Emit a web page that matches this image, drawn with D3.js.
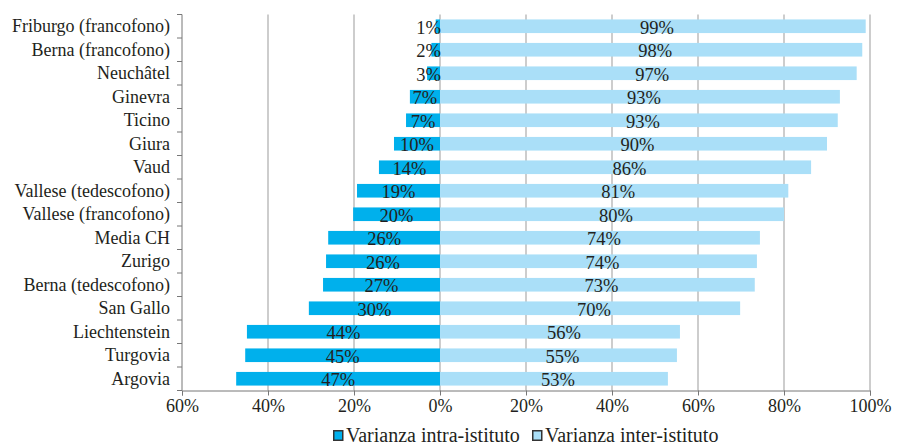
<!DOCTYPE html>
<html>
<head>
<meta charset="utf-8">
<script src="https://cdn.jsdelivr.net/npm/d3@7"></script>
<style>
  body { margin: 0; background: #fff; }
  text { font-family: 'Liberation Serif', 'Times New Roman', serif; fill: #231f20; }
</style>
</head>
<body>
<div id="chart"></div>
<script>
const categories = ['Friburgo (francofono)', 'Berna (francofono)', 'Neuchâtel', 'Ginevra', 'Ticino', 'Giura', 'Vaud',
  'Vallese (tedescofono)', 'Vallese (francofono)', 'Media CH', 'Zurigo', 'Berna (tedescofono)', 'San Gallo',
  'Liechtenstein', 'Turgovia', 'Argovia']
// bar lengths
const intraValues = [1, 2, 3, 7, 7.9, 10.7, 14.2, 19.3, 20.2, 26, 26.5, 27.2, 30.5, 44.9, 45.3, 47.4]
const interValues = [99, 98.2, 96.9, 93, 92.5, 90, 86.3, 81, 80, 74.4, 73.7, 73.2, 69.8, 55.8, 55.1, 53]
// printed labels
const intraLabels = ['1%', '2%', '3%', '7%', '7%', '10%', '14%', '19%', '20%', '26%', '26%', '27%', '30%', '44%', '45%', '47%']
const interLabels = ['99%', '98%', '97%', '93%', '93%', '90%', '86%', '81%', '80%', '74%', '74%', '73%', '70%', '56%', '55%', '53%']
const xTicks = [-60, -40, -20, 0, 20, 40, 60, 80, 100]
const seriesNames = ['Varianza intra-istituto', 'Varianza inter-istituto']
const colors = ['#00b0ec', '#aadff8']

const width = 901
const height = 445

const svg = d3.select('#chart').append('svg')
  .attr('width', width)
  .attr('height', height)

const x = d3.scaleLinear().domain([-60, 100]).range([182, 870])
const y = d3.scaleBand().domain(categories).range([14.5, 390.5])
  .paddingInner(0.42).paddingOuter(0.21)

const yTop = y.range()[0]
const yBottom = y.range()[1]

// grid
svg.append('g').selectAll('line').data(xTicks.filter(d => d > -60)).enter().append('line')
  .attr('x1', d => x(d)).attr('x2', d => x(d))
  .attr('y1', yTop).attr('y2', yBottom)
  .attr('stroke', '#bdbdbd').attr('stroke-width', 1.5)

// bars
const rows = categories.map((c, i) => ({ c, intra: intraValues[i], inter: interValues[i], li: intraLabels[i], le: interLabels[i] }))

svg.append('g').selectAll('rect').data(rows).enter().append('rect')
  .attr('x', x(0)).attr('y', d => y(d.c))
  .attr('width', d => x(d.inter) - x(0)).attr('height', y.bandwidth())
  .attr('fill', colors[1])

svg.append('g').selectAll('rect').data(rows).enter().append('rect')
  .attr('x', d => x(-d.intra)).attr('y', d => y(d.c))
  .attr('width', d => x(0) - x(-d.intra)).attr('height', y.bandwidth())
  .attr('fill', colors[0])

// value labels
svg.append('g').selectAll('text').data(rows).enter().append('text')
  .attr('x', d => (x(0) + x(d.inter)) / 2 + 4)
  .attr('y', d => y(d.c) + y.bandwidth() / 2)
  .attr('dy', '0.4em')
  .attr('text-anchor', 'middle')
  .style('font-size', '18.5px')
  .text(d => d.le)

svg.append('g').selectAll('text').data(rows).enter().append('text')
  .attr('y', d => y(d.c) + y.bandwidth() / 2)
  .attr('dy', '0.4em')
  .attr('text-anchor', 'middle')
  .style('font-size', '18.5px')
  .text(d => d.li)
  .attr('x', function (d) {
    const w = this.getComputedTextLength()
    const c = (x(-d.intra) + x(0)) / 2
    return Math.min(c, x(0) + 1 - w / 2)
  })

// y axis
const yAxis = svg.append('g').attr('transform', `translate(${x(-60)},0)`)
  .call(d3.axisLeft(y).tickSize(0).tickPadding(12))
yAxis.select('.domain').remove()
yAxis.selectAll('text').style('font-size', '18px').attr('fill', '#231f20')
yAxis.append('line').attr('y1', yTop).attr('y2', yBottom).attr('stroke', '#777')
const step = y.step()
yAxis.selectAll('.bt').data(d3.range(categories.length + 1)).enter().append('line')
  .attr('x1', -5).attr('x2', 0)
  .attr('y1', i => yTop + i * step).attr('y2', i => yTop + i * step)
  .attr('stroke', '#777')

// x axis
const xAxis = svg.append('g').attr('transform', `translate(0,${yBottom})`)
  .call(d3.axisBottom(x).tickValues(xTicks).tickSize(5).tickPadding(4)
    .tickFormat(d => Math.abs(d) + '%'))
xAxis.select('.domain').attr('stroke', '#777')
xAxis.selectAll('.tick line').attr('stroke', '#777')
xAxis.selectAll('text').style('font-size', '18px').attr('fill', '#231f20')

// legend
const legend = svg.append('g').attr('transform', 'translate(333,429)')
const lx = [0, 199]
seriesNames.forEach((name, i) => {
  const g = legend.append('g').attr('transform', `translate(${lx[i]},0)`)
  g.append('rect').attr('x', 0.75).attr('y', 1.75).attr('width', 9).attr('height', 9.5)
    .attr('fill', colors[i]).attr('stroke', '#333').attr('stroke-width', 1.5)
  g.append('text').attr('x', 13).attr('y', 13).style('font-size', '20px').text(name)
})
</script>
</body>
</html>
